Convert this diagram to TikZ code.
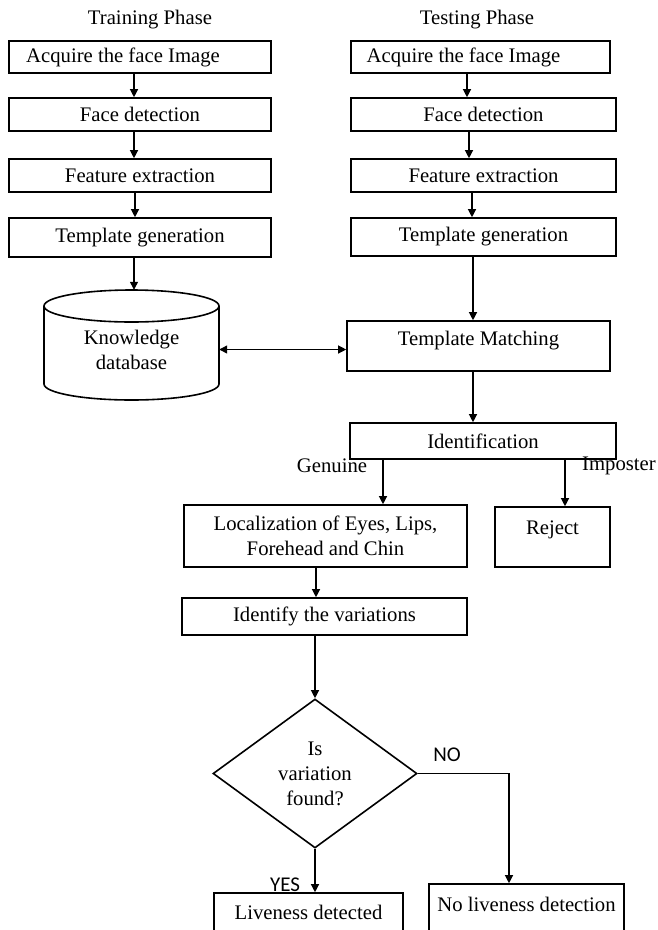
\documentclass[tikz,border=0pt]{standalone}
\usepackage{fontspec}
\setmainfont{Liberation Serif}
\newfontfamily\yesnofont{Carlito}
\usetikzlibrary{arrows.meta,shapes.geometric,calc}
\begin{document}
\begin{tikzpicture}[x=1pt,y=-1pt,
  every node/.style={font=\fontsize{20.7pt}{25pt}\selectfont},
  box/.style={draw, line width=1.6pt, inner sep=3pt, rectangle, align=center},
  arr/.style={line width=1.2pt, -{Triangle[length=8pt,width=8pt]}},
  darr/.style={line width=1.2pt, {Triangle[length=8pt,width=8pt]}-{Triangle[length=8pt,width=8pt]}},
  lbl/.style={inner sep=0pt},
  yn/.style={inner sep=0pt, font=\yesnofont\fontsize{21pt}{24pt}\selectfont}]
\useasboundingbox (0,0) rectangle (658,930);
\clip (0,0) rectangle (658,930);

% titles
\node[lbl] (ttitle) at (150,20) {Training Phase};
\node[lbl] (stitle) at (477,20) {Testing Phase};

% training column
\node[box, minimum width=262pt, minimum height=32pt] (tacq) at (140,57) {Acquire the face Image\hspace*{34pt}};
\node[box, minimum width=262pt, minimum height=33pt] (tfd) at (140,114.5) {Face detection};
\node[box, minimum width=262pt, minimum height=33pt] (tfe) at (140,175.5) {Feature extraction};
\node[box, minimum width=262pt, minimum height=39pt] (ttg) at (140,237.5) {Template generation};

% testing column
\node[box, minimum width=259pt, minimum height=32pt] (sacq) at (480.5,57) {Acquire the face Image\hspace*{34pt}};
\node[box, minimum width=265pt, minimum height=33pt] (sfd) at (483.5,114.5) {Face detection};
\node[box, minimum width=265pt, minimum height=33pt] (sfe) at (483.5,175.5) {Feature extraction};
\node[box, minimum width=265pt, minimum height=38pt] (stg) at (483.5,237) {Template generation};

% arrows in columns
\draw[arr] ([xshift=-6pt]tacq.south) -- ([xshift=-6pt]tfd.north);
\draw[arr] ([xshift=-6pt]tfd.south) -- ([xshift=-6pt]tfe.north);
\draw[arr] ([xshift=-5pt]tfe.south) -- ([xshift=-5pt]ttg.north);
\draw[arr] ([xshift=-13.5pt]sacq.south) -- ([xshift=-13.5pt]sacq.south |- sfd.north);
\draw[arr] ([xshift=-14.5pt]sfd.south) -- ([xshift=-14.5pt]sfe.north);
\draw[arr] ([xshift=-11.5pt]sfe.south) -- ([xshift=-11.5pt]stg.north);

% knowledge database cylinder
\draw[line width=1.6pt] (44,306) -- (44,384)
  arc[start angle=180, end angle=360, x radius=87.5pt, y radius=16pt] -- (219,306);
\draw[line width=1.6pt] (131.5,306) ellipse [x radius=87.5pt, y radius=16pt];
\node[inner sep=0pt, minimum width=175pt, minimum height=119pt, align=center] (kdb) at (131.5,349.5) {Knowledge\\database};
\draw[arr] ([xshift=-6pt]ttg.south) -- ([xshift=-6pt]ttg.south |- kdb.north);

% template matching
\node[box, minimum width=263pt, minimum height=50pt, text height=15pt, text depth=17pt] (tm) at (478.5,346) {Template Matching};
\draw[arr] ([xshift=-10.5pt]stg.south) -- ([xshift=-10.5pt]stg.south |- tm.north);
\draw[darr] (kdb.east) -- (tm.west |- kdb.east);

% identification
\node[box, minimum width=266pt, minimum height=36pt] (id) at (483,441) {Identification};
\draw[arr] ([xshift=-5.5pt]tm.south) -- ([xshift=-5.5pt]tm.south |- id.north);

\node[box, minimum width=283pt, minimum height=62pt] (loc) at (325.5,536) {Localization of Eyes, Lips,\\Forehead and Chin};
\node[box, minimum width=115pt, minimum height=60pt, text height=15pt, text depth=21pt] (rej) at (552.5,537) {Reject};
\draw[arr] ([xshift=-100pt]id.south) -- ([xshift=-100pt]id.south |- loc.north);
\draw[arr] ([xshift=82pt]id.south) -- ([xshift=82pt]id.south |- rej.north);
\node[lbl] (gen) at (332,466) {Genuine};
\node[lbl, anchor=west] (imp) at (582,466) {Imposter};

% identify variations
\node[box, minimum width=285pt, minimum height=37pt] (idv) at (324.5,616.5) {Identify the variations};
\draw[arr] ([xshift=-9.5pt]loc.south) -- ([xshift=-9.5pt]loc.south |- idv.north);

% decision
\node[draw, diamond, aspect=1.37, minimum width=204pt, minimum height=149pt, inner sep=0pt, align=center, line width=1.6pt] (dia) at (315,773.5) {Is\\variation\\found?};
\draw[arr] ([xshift=-9.5pt]idv.south) -- (dia.north);

% outcomes
\node[box, minimum width=195pt, minimum height=80pt, text height=15pt, text depth=41pt] (nold) at (526.5,924) {No liveness detection};
\node[box, minimum width=189pt, minimum height=80pt, text height=15pt, text depth=43pt] (lived) at (308.5,933) {Liveness detected};
\draw[arr] (dia.east) -| ([xshift=-17.5pt]nold.north);
\draw[arr] (dia.south) -- (dia.south |- lived.north);
\node[yn] (no) at (447,755) {NO};
\node[yn] (yes) at (285,885) {YES};
\end{tikzpicture}
\end{document}
